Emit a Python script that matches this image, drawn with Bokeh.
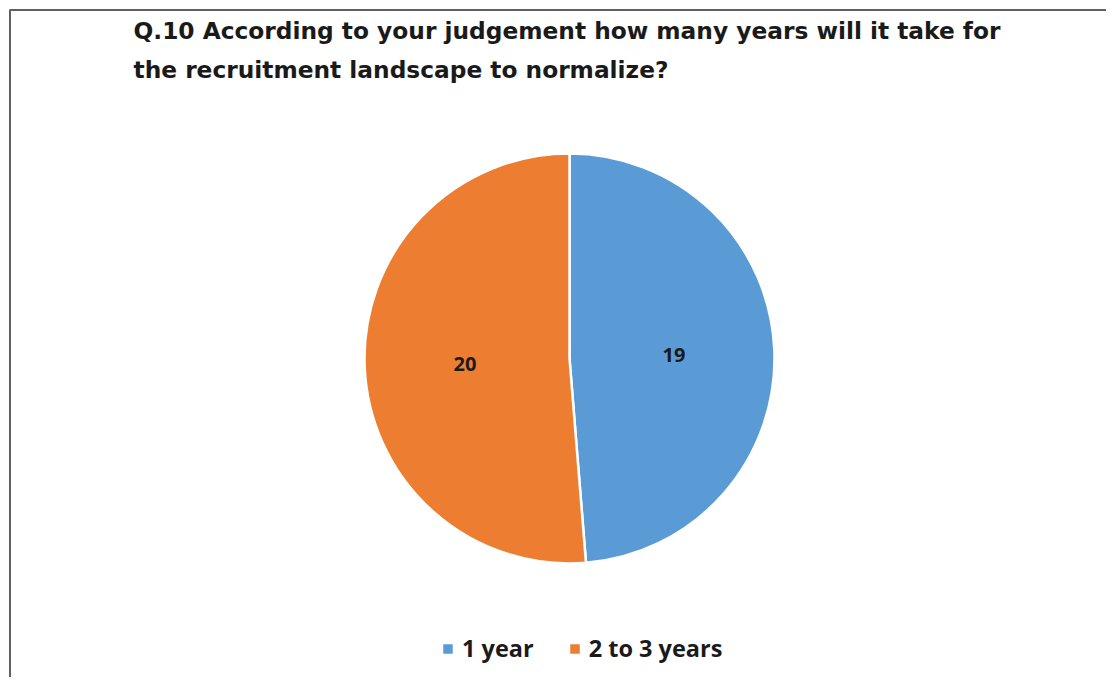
import numpy as np
from bokeh.plotting import figure
from bokeh.models import Range1d, Label, Legend, LegendItem, ColumnDataSource
from bokeh.core.properties import value
from bokeh.embed import file_html
from bokeh.resources import INLINE

# data
categories = ["1 year", "2 to 3 years"]
counts = [19, 20]
colors = ["#5B9BD5", "#ED7D31"]
title_lines = ["Q.10 According to your judgement how many years will it take for",
               "the recruitment landscape to normalize?"]

W, H = 1106, 677
cx, cy = 569, 358          # pie centre in canvas px (from top-left)
R = 205
FONT = "Open Sans"
TITLE_FONT = "DejaVu Sans"

p = figure(width=W, height=H, output_backend="svg", toolbar_location=None,
           x_range=Range1d(-cx, W - cx), y_range=Range1d(-(H - cy), cy),
           min_border=0, outline_line_color=None)
p.axis.visible = False
p.grid.visible = False
p.background_fill_color = "white"
p.border_fill_color = "white"

# chart border (left and top edges of the chart area)
bx = -cx + 9.5
by = cy - 9.5
p.line(x=[bx, bx, W - cx + 10], y=[-(H - cy) - 10, by, by],
       line_color="#606060", line_width=2)

vals = np.array(counts, dtype=float)
frac = vals / vals.sum()
ends = np.cumsum(frac) * 2 * np.pi
starts = np.concatenate([[0], ends[:-1]])
start_angle = np.pi / 2 - starts
end_angle = np.pi / 2 - ends
mid = (start_angle + end_angle) / 2

src = ColumnDataSource(dict(start=start_angle, end=end_angle, color=colors,
                            cat=categories, lx=0.51 * R * np.cos(mid),
                            ly=0.51 * R * np.sin(mid) - 1,
                            txt=[str(c) for c in counts]))
wr = p.wedge(x=0, y=0, radius=R, start_angle="start", end_angle="end",
             direction="clock", fill_color="color", line_color="white",
             line_width=2.5, source=src)
p.text(x="lx", y="ly", text="txt", source=src, text_align="center",
       text_baseline="middle", text_font=value(FONT), text_font_style="bold",
       text_font_size="20px", text_color="#1a1a1a")

# title
for i, t in enumerate(title_lines):
    p.add_layout(Label(x=133, y=H - 30 - i * 39, x_units="screen", y_units="screen",
                       text=t, text_font=TITLE_FONT, text_font_style="bold",
                       text_font_size="23.3px", text_color="#1a1a1a",
                       text_baseline="alphabetic"))

legend = Legend(items=[LegendItem(label=categories[i], renderers=[wr], index=i)
                       for i in range(len(categories))],
                orientation="horizontal", location=(440, 13),
                label_text_font=FONT, label_text_font_style="bold",
                label_text_font_size="23.5px", label_text_color="#1a1a1a",
                glyph_width=15, glyph_height=15, spacing=33,
                padding=0, margin=0,
                border_line_color=None, background_fill_alpha=0,
                label_standoff=7)
p.add_layout(legend)

open("out.html", "w").write(file_html(p, INLINE))
